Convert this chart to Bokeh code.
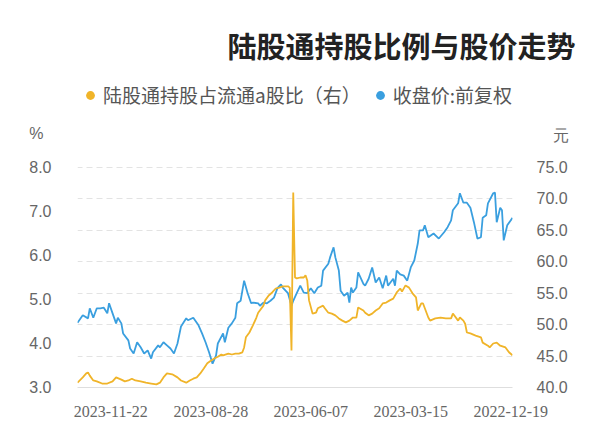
from bokeh.plotting import figure
from bokeh.models import (Range1d, LinearAxis, FixedTicker, NumeralTickFormatter,
                          Legend, LegendItem, Title)
from bokeh.embed import file_html
from bokeh.resources import INLINE

title_text = "陆股通持股比例与股价走势"
price_name = "收盘价:前复权"
pct_name = "陆股通持股占流通a股比（右）"
price_unit = "元"
pct_unit = "%"

tick_days = [1, 58, 115, 172, 229]
tick_dates = ["2022-12-19", "2023-03-15", "2023-06-07", "2023-08-28", "2023-11-22"]
price_ticks = [40, 45, 50, 55, 60, 65, 70, 75]
pct_ticks = [3, 4, 5, 6, 7, 8]

# trading-day index (0 = 2022-12-19) and close price (元)
blue_day = [0, 3, 5, 6, 7, 9, 10, 11, 14, 15, 17, 18, 20, 22, 24, 26, 28, 30, 31, 34,
            35, 37, 39, 42, 45, 48, 50, 51, 53, 54, 56, 58, 60, 62, 64, 66, 67, 68, 71, 72,
            74, 76, 78, 80, 82, 84, 85, 88, 89, 91, 92, 93, 94, 96, 98, 99, 101, 102, 104, 105,
            108, 109, 111, 113, 115, 117, 119, 121, 123, 125, 126, 128, 131, 132, 134, 136, 138, 140, 142, 144,
            145, 148, 149, 151, 153, 154, 155, 157, 158, 160, 162, 164, 165, 168, 169, 171, 173, 175, 177, 179,
            181, 182, 185, 186, 189, 191, 193, 195, 197, 199, 201, 202, 205, 206, 208, 210, 212, 214, 216, 218,
            219, 222, 223, 225, 226, 228, 230, 231, 233, 235, 237, 239, 241, 242, 245, 246, 248]
blue_price = [67.0, 65.8, 63.4, 68.2, 68.6, 66.3, 71.0, 70.9, 69.3, 67.4, 67.0, 63.9, 63.7, 66.3, 68.6, 69.4, 69.4, 70.9, 69.3, 68.2,
              66.6, 65.5, 64.7, 63.7, 64.5, 63.9, 65.8, 65.0, 65.0, 62.9, 60.2, 59.1, 57.0, 57.8, 58.0, 58.6, 56.2, 57.3, 56.2, 57.8,
              55.8, 57.5, 56.7, 59.1, 57.3, 56.2, 56.5, 58.3, 55.9, 55.1, 55.9, 53.5, 55.1, 54.6, 55.4, 58.6, 60.7, 62.3, 60.7, 59.7,
              58.6, 56.2, 55.9, 55.0, 55.8, 55.0, 55.1, 56.2, 55.0, 53.8, 53.0, 55.0, 55.9, 56.4, 55.8, 54.3, 53.8, 53.4, 53.5, 53.0,
              53.4, 53.5, 53.4, 55.0, 57.0, 55.4, 53.8, 53.4, 51.1, 50.2, 49.5, 47.2, 48.6, 47.0, 45.1, 43.8, 45.6, 47.2, 48.6, 49.9,
              50.7, 51.1, 50.7, 51.0, 49.7, 47.0, 45.4, 46.2, 46.7, 47.2, 46.4, 46.7, 45.6, 44.6, 45.9, 45.4, 46.4, 47.2, 45.4, 46.2,
              47.5, 48.6, 50.2, 51.1, 50.2, 51.8, 53.4, 51.8, 52.7, 52.6, 52.6, 51.1, 52.6, 51.0, 51.5, 51.1, 50.3]

# trading-day index and northbound holding ratio (%)
pct_day = [0, 2, 4, 7, 9, 11, 13, 14, 17, 18, 21, 24, 26, 27, 28, 30, 31, 34, 35, 38,
           41, 44, 47, 48, 51, 52, 54, 55, 57, 59, 61, 63, 64, 66, 68, 70, 72, 74, 76, 78,
           80, 82, 84, 85, 88, 89, 91, 93, 95, 97, 99, 101, 103, 105, 107, 108, 111, 112, 114, 116,
           117, 118, 119, 121, 123, 124, 125, 126, 127, 128, 131, 133, 135, 137, 139, 141, 142, 145, 146, 148,
           150, 152, 153, 154, 156, 158, 160, 162, 165, 166, 168, 170, 172, 174, 176, 178, 180, 182, 184, 186,
           189, 191, 194, 197, 199, 201, 203, 206, 209, 212, 215, 217, 219, 221, 223, 226, 228, 231, 234, 237,
           239, 241, 242, 243, 245, 248]
pct_value = [3.73, 3.80, 3.91, 3.95, 4.02, 4.00, 3.91, 3.95, 4.02, 4.14, 4.18, 4.23, 4.25, 4.45, 4.52, 4.59, 4.52, 4.68, 4.57, 4.57,
             4.59, 4.57, 4.52, 4.59, 4.91, 4.91, 4.75, 5.05, 5.14, 5.27, 5.32, 5.18, 5.25, 5.16, 5.02, 4.98, 4.93, 4.91, 4.80, 4.75,
             4.68, 4.64, 4.70, 4.75, 4.82, 4.59, 4.59, 4.52, 4.48, 4.52, 4.57, 4.64, 4.68, 4.70, 4.80, 4.86, 4.80, 4.70, 4.68, 4.98,
             5.43, 5.55, 5.50, 5.50, 5.48, 5.50, 7.43, 3.84, 5.27, 5.30, 5.30, 5.27, 5.25, 5.16, 5.09, 4.98, 4.86, 4.70, 4.59, 4.41,
             4.25, 4.14, 3.91, 3.80, 3.77, 3.77, 3.75, 3.77, 3.73, 3.75, 3.70, 3.66, 3.61, 3.55, 3.43, 3.32, 3.23, 3.20, 3.16, 3.11,
             3.16, 3.23, 3.30, 3.32, 3.23, 3.11, 3.07, 3.09, 3.11, 3.14, 3.16, 3.20, 3.16, 3.14, 3.18, 3.23, 3.14, 3.09, 3.09, 3.14,
             3.16, 3.27, 3.34, 3.32, 3.23, 3.11]

assert len(blue_day) == len(blue_price), (len(blue_day), len(blue_price))
assert len(pct_day) == len(pct_value), (len(pct_day), len(pct_value))

BLUE = "#3a9fdf"
ORANGE = "#f0b429"
GRAY = "#666666"
CJK = "Noto Sans CJK SC"

# layout (pixels): frame from y=80 to y=387, x=77..512; ticks 75 / 8.0 sit at y=167
FRAME_TOP, TICK_TOP, FRAME_BOTTOM = 80, 167, 387
px_per_price = (FRAME_BOTTOM - TICK_TOP) / (75 - 40)
px_per_pct = (FRAME_BOTTOM - TICK_TOP) / (8 - 3)
price_top = 75 + (TICK_TOP - FRAME_TOP) / px_per_price
pct_top = 8 + (TICK_TOP - FRAME_TOP) / px_per_pct
price_unit_pos = 75 + (TICK_TOP - 135) / px_per_price
pct_unit_pos = 8 + (TICK_TOP - 133) / px_per_pct

p = figure(width=600, height=446, output_backend="svg", toolbar_location=None,
           x_range=Range1d(248, 0), y_range=Range1d(40, price_top),
           y_axis_location="right",
           min_border_left=77, min_border_right=88, min_border_top=FRAME_TOP,
           min_border_bottom=446 - FRAME_BOTTOM)
p.extra_y_ranges = {"pct": Range1d(3, pct_top)}
p.outline_line_color = None

p.add_layout(Title(text=title_text, align="right", offset=-63, standoff=29,
                   text_font=CJK, text_font_size="29px", text_font_style="bold",
                   text_color="#222222"), "above")

xa = p.xaxis[0]
xa.ticker = FixedTicker(ticks=tick_days)
xa.major_label_overrides = {d: s for d, s in zip(tick_days, tick_dates)}
xa.major_tick_line_color = None
xa.minor_tick_line_color = None
xa.axis_line_color = "#dedede"
xa.major_label_standoff = 12
xa.major_label_text_font = "Liberation Serif"
xa.major_label_text_font_size = "16px"
xa.major_label_text_color = GRAY

ya = p.yaxis[0]
ya.ticker = FixedTicker(ticks=price_ticks + [price_unit_pos])
ya.formatter = NumeralTickFormatter(format="0.0")
ya.major_label_overrides = {price_unit_pos: "\u2003" + price_unit}
ya.major_tick_line_color = None
ya.minor_tick_line_color = None
ya.axis_line_color = None
ya.major_label_standoff = 18
ya.major_label_text_font = "Liberation Sans"
ya.major_label_text_font_size = "16px"
ya.major_label_text_color = GRAY

la = LinearAxis(y_range_name="pct", ticker=FixedTicker(ticks=pct_ticks + [pct_unit_pos]),
                formatter=NumeralTickFormatter(format="0.0"))
la.major_label_overrides = {pct_unit_pos: pct_unit + "\u2002"}
la.major_tick_line_color = None
la.minor_tick_line_color = None
la.axis_line_color = None
la.major_label_standoff = 20
la.major_label_text_font = "Liberation Sans"
la.major_label_text_font_size = "16px"
la.major_label_text_color = GRAY
p.add_layout(la, "left")

p.xgrid.visible = False
g = p.ygrid[0]
g.ticker = FixedTicker(ticks=price_ticks)
g.grid_line_color = "#e3e3e3"
g.grid_line_dash = "6 4"

p.line(blue_day, blue_price, line_color=BLUE, line_width=1.8)
p.line(pct_day, pct_value, y_range_name="pct", line_color=ORANGE, line_width=1.8)

# zero-size markers: only used so the legend shows round dots
r_o = p.scatter(pct_day, pct_value, y_range_name="pct", marker="circle", size=0,
                fill_color=ORANGE, line_color=None)
r_b = p.scatter(blue_day, blue_price, marker="circle", size=0,
                fill_color=BLUE, line_color=None)
legend = Legend(items=[LegendItem(label=pct_name, renderers=[r_o]),
                       LegendItem(label=price_name, renderers=[r_b])],
                location=(2, FRAME_BOTTOM - 108), orientation="horizontal",
                glyph_width=22, glyph_height=22, label_standoff=2, spacing=8,
                padding=0, margin=0, border_line_color=None, background_fill_alpha=0,
                label_text_font=CJK, label_text_font_size="19px", label_text_color="#555555")
p.add_layout(legend)

open("out.html", "w").write(file_html(p, INLINE))
